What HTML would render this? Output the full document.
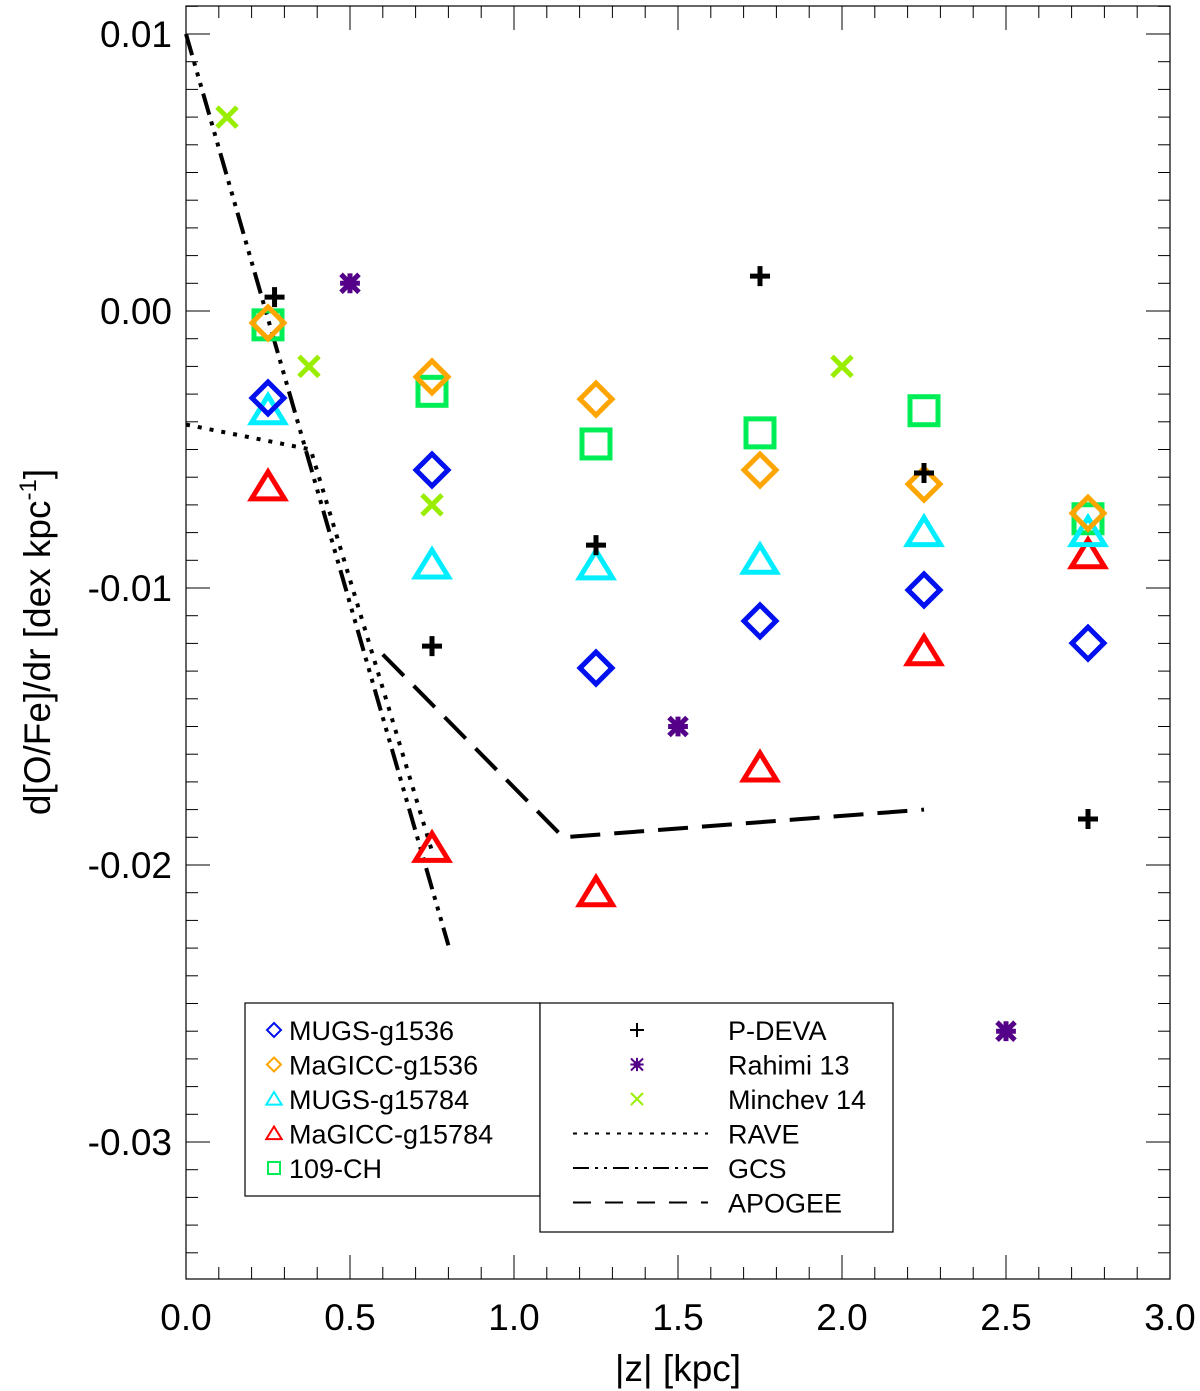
<!DOCTYPE html>
<html><head><meta charset="utf-8"><style>
body{margin:0;background:#fff}
svg{display:block;font-family:"Liberation Sans",sans-serif}
</style></head><body>
<svg id="chart" width="1200" height="1391"></svg>
<script>
const xTicks=[0.0,0.5,1.0,1.5,2.0,2.5,3.0];
const xTickLabels=["0.0","0.5","1.0","1.5","2.0","2.5","3.0"];
const yTicks=[0.01,0.0,-0.01,-0.02,-0.03];
const yTickLabels=["0.01","0.00","-0.01","-0.02","-0.03"];
const zBins=[0.25,0.75,1.25,1.75,2.25,2.75];
const mugs1536=[-0.00314,-0.00574,-0.01289,-0.01119,-0.01007,-0.01199];
const magicc1536=[-0.00043,-0.00238,-0.00318,-0.00574,-0.00625,-0.0073];
const mugs15784=[-0.0036,-0.00917,-0.0092,-0.009,-0.008,-0.008];
const magicc15784=[-0.00635,-0.0194,-0.021,-0.0165,-0.0123,-0.0088];
const ch109=[-0.0005,-0.0029,-0.0048,-0.0044,-0.0036,-0.0075];
const pdevaZ=[0.27,0.75,1.25,1.75,2.25,2.75];
const pdevaV=[0.0005,-0.0121,-0.00845,0.00126,-0.00585,-0.01834];
const rahimiZ=[0.5,1.5,2.5];
const rahimiV=[0.001,-0.015,-0.026];
const minchevZ=[0.125,0.375,0.75,2.0];
const minchevV=[0.007,-0.002,-0.007,-0.002];
const raveZ=[0,0.38,0.75];
const raveV=[-0.0041,-0.005,-0.0195];
const gcsZ=[0,0.8];
const gcsV=[0.01,-0.0229];
const apogeeZ=[0.6,1.15,2.25];
const apogeeV=[-0.0124,-0.019,-0.018];

const X0=186,X1=1170,Y0=6,Y1=1279;
const xs=z=>X0+(X1-X0)*z/3;
const ys=v=>311-v*27700;
const NS="http://www.w3.org/2000/svg";
const svg=document.getElementById('chart');
function mk(tag,attrs,parent){const e=document.createElementNS(NS,tag);for(const k in attrs)e.setAttribute(k,attrs[k]);(parent||svg).appendChild(e);return e;}

const frame=mk('rect',{x:X0,y:Y0,width:X1-X0,height:Y1-Y0,fill:'none',stroke:'#000','stroke-width':1.2});


for(let i=0;i<=30;i++){const z=i/10,x=xs(z),L=(i%5==0)?24:12;
 mk('line',{x1:x,y1:Y1,x2:x,y2:Y1-L,stroke:'#000'});mk('line',{x1:x,y1:Y0,x2:x,y2:Y0+L,stroke:'#000'});}
xTicks.forEach((t,i)=>{const e=mk('text',{x:xs(t),y:1330,'font-size':37,'text-anchor':'middle'});e.textContent=xTickLabels[i];
 
 });
for(let i=-35;i<=11;i++){const v=i/1000,y=ys(v);if(y<Y0||y>Y1)continue;const L=(i%10==0)?24:12;
 mk('line',{x1:X0,y1:y,x2:X0+L,y2:y,stroke:'#000'});mk('line',{x1:X1,y1:y,x2:X1-L,y2:y,stroke:'#000'});}
yTicks.forEach((t,i)=>{const e=mk('text',{x:172,y:ys(t)+13,'font-size':37,'text-anchor':'end'});e.textContent=yTickLabels[i];
 
 });
const xt=mk('text',{x:(X0+X1)/2,y:1381,'font-size':37,'text-anchor':'middle'});xt.textContent='|z| [kpc]';


const yt=mk('text',{x:0,y:0,'font-size':37,'text-anchor':'middle',transform:'translate(50,642) rotate(-90)'});
yt.innerHTML='d[O/Fe]/dr [dex kpc<tspan dy="-14" font-size="24">-1</tspan><tspan dy="14">]</tspan>';



function poly(zs,vs,dash,name){const e=mk('polyline',{points:zs.map((z,i)=>xs(z)+','+ys(vs[i])).join(' '),fill:'none',stroke:'#000','stroke-width':4,'stroke-dasharray':dash});
 
 }
poly(raveZ,raveV,'4 8','rave-line');
poly(gcsZ,gcsV,'22 7 4 7 4 7 4 7','gcs-line');
poly(apogeeZ,apogeeV,'30 14','apogee-line');

function diamond(x,y,c,s,w,g){mk('polygon',{points:`${x},${y-s} ${x+s},${y} ${x},${y+s} ${x-s},${y}`,fill:'none',stroke:c,'stroke-width':w},g);}
function tri(x,y,c,s,w,g){mk('polygon',{points:`${x},${y-s} ${x+s*1.1},${y+s*0.8} ${x-s*1.1},${y+s*0.8}`,fill:'none',stroke:c,'stroke-width':w},g);}
function sq(x,y,c,s,w,g){mk('rect',{x:x-s,y:y-s,width:2*s,height:2*s,fill:'none',stroke:c,'stroke-width':w},g);}
function plus(x,y,c,s,w,g){mk('path',{d:`M${x-s},${y}H${x+s}M${x},${y-s}V${y+s}`,stroke:c,'stroke-width':w},g);}
function cross(x,y,c,s,w,g){mk('path',{d:`M${x-s},${y-s}L${x+s},${y+s}M${x+s},${y-s}L${x-s},${y+s}`,stroke:c,'stroke-width':w},g);}
function star(x,y,c,s,w,g){cross(x,y,c,s,w,g);plus(x,y,c,s*1.1,w,g);mk('circle',{cx:x,cy:y,r:s*0.6,fill:c},g);}
function series(name,zs,vs,fn,c,s,w){const g=mk('g',{});
 
 zs.forEach((z,i)=>fn(xs(z),ys(vs[i]),c,s,w,g));}
series('series-109-ch',zBins,ch109,sq,'#00ee55',14,5);
series('series-magicc-g15784',zBins,magicc15784,tri,'#ff0000',15,5);
series('series-mugs-g15784',zBins,mugs15784,tri,'#00eeff',15,5);
series('series-magicc-g1536',zBins,magicc1536,diamond,'#ffa500',16,5);
series('series-mugs-g1536',zBins,mugs1536,diamond,'#0010ee',16,5);
series('series-p-deva',pdevaZ,pdevaV,plus,'#000',10,5);
series('series-rahimi-13',rahimiZ,rahimiV,star,'#550088',9,5);
series('series-minchev-14',minchevZ,minchevV,cross,'#99ee00',10,5);

const l1=mk('g',{});

mk('rect',{x:245,y:1003,width:295,height:193,fill:'#fff',stroke:'#000','stroke-width':1.2},l1);
const L1=[['MUGS-g1536',diamond,'#0010ee'],['MaGICC-g1536',diamond,'#ffa500'],['MUGS-g15784',tri,'#00eeff'],['MaGICC-g15784',tri,'#ff0000'],['109-CH',sq,'#00ee55']];
L1.forEach((d,i)=>{const y=1030+i*34.5;const g=mk('g',{},l1);
 
 d[1](274,y,d[2],d[1]===sq?6:7,2,g);
 const t=mk('text',{x:289,y:y+10,'font-size':27,textLength:0},g);t.removeAttribute('textLength');t.textContent=d[0];});
const l2=mk('g',{});

mk('rect',{x:540,y:1003,width:353,height:229,fill:'#fff',stroke:'#000','stroke-width':1.2},l2);
const L2=[['P-DEVA','plus'],['Rahimi 13','star'],['Minchev 14','cross'],['RAVE','4 7'],['GCS','16 6 3 6 3 6'],['APOGEE','18 14']];
L2.forEach((d,i)=>{const y=1030+i*34.5;const g=mk('g',{},l2);
 
 if(d[1]==='plus')plus(637,y,'#000',7,2,g);
 else if(d[1]==='star')star(637,y,'#550088',6,2,g);
 else if(d[1]==='cross')cross(637,y,'#99ee00',6,2,g);
 else mk('line',{x1:573,y1:y,x2:708,y2:y,stroke:'#000','stroke-width':2,'stroke-dasharray':d[1]},g);
 const t=mk('text',{x:728,y:y+10,'font-size':27},g);t.textContent=d[0];});
</script>
</body></html>
